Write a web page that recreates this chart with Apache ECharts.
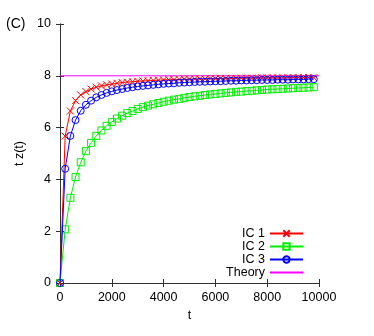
<!DOCTYPE html>
<html>
<head>
<meta charset="utf-8">
<script src="https://cdn.jsdelivr.net/npm/echarts@6/dist/echarts.min.js"></script>
<style>
  html, body { margin: 0; padding: 0; background: #fff; }
  #main { width: 374px; height: 336px; }
</style>
</head>
<body>
<div id="main"></div>
<script>
// sample times, every 200 from 0 to 9800
var times = [0, 200, 400, 600, 800, 1000, 1200, 1400, 1600, 1800,
  2000, 2200, 2400, 2600, 2800, 3000, 3200, 3400, 3600, 3800,
  4000, 4200, 4400, 4600, 4800, 5000, 5200, 5400, 5600, 5800,
  6000, 6200, 6400, 6600, 6800, 7000, 7200, 7400, 7600, 7800,
  8000, 8200, 8400, 8600, 8800, 9000, 9200, 9400, 9600, 9800];

var ic1 = [0, 5.67, 6.64, 7.04, 7.26, 7.39, 7.49, 7.56, 7.61, 7.65,
  7.68, 7.71, 7.74, 7.76, 7.77, 7.79, 7.80, 7.81, 7.82, 7.83,
  7.84, 7.85, 7.85, 7.86, 7.87, 7.87, 7.88, 7.88, 7.88, 7.89,
  7.89, 7.90, 7.90, 7.90, 7.90, 7.91, 7.91, 7.91, 7.91, 7.92,
  7.92, 7.92, 7.92, 7.92, 7.93, 7.93, 7.93, 7.93, 7.93, 7.93];

var ic2 = [0, 2.07, 3.29, 4.09, 4.66, 5.09, 5.41, 5.68, 5.89, 6.07,
  6.22, 6.35, 6.46, 6.56, 6.64, 6.72, 6.79, 6.85, 6.90, 6.95,
  7.00, 7.04, 7.08, 7.11, 7.15, 7.18, 7.21, 7.23, 7.26, 7.28,
  7.30, 7.32, 7.34, 7.36, 7.38, 7.39, 7.41, 7.42, 7.44, 7.45,
  7.47, 7.48, 7.49, 7.50, 7.51, 7.52, 7.53, 7.54, 7.55, 7.56];

var ic3 = [0, 4.41, 5.68, 6.29, 6.65, 6.88, 7.04, 7.17, 7.26, 7.34,
  7.40, 7.45, 7.49, 7.53, 7.56, 7.59, 7.61, 7.63, 7.65, 7.67,
  7.69, 7.70, 7.71, 7.73, 7.74, 7.75, 7.76, 7.77, 7.77, 7.78,
  7.79, 7.79, 7.80, 7.81, 7.81, 7.82, 7.82, 7.83, 7.83, 7.84,
  7.84, 7.84, 7.85, 7.85, 7.85, 7.86, 7.86, 7.86, 7.87, 7.87];

var theoryT = [0, 10000];
var theoryVal = [8, 8];

var xTicks = [0, 2000, 4000, 6000, 8000, 10000];
var yTicks = [0, 2, 4, 6, 8, 10];

function pairs(xs, ys) {
  return xs.map(function (x, i) { return [x, ys[i]]; });
}

var font = 'Liberation Sans, Arial, sans-serif';
var crossPath = 'path://M0,0L10,10M10,0L0,10';

var myChart = echarts.init(document.getElementById('main'));

var frame = { show: true, lineStyle: { color: '#333', width: 1 } };
var inTick = { show: true, inside: true, length: 4, lineStyle: { color: '#333' } };

var option = {
  animation: false,
  title: {
    text: '(C)',
    left: 6,
    top: 17,
    padding: 0,
    textStyle: { fontFamily: font, fontSize: 14, fontWeight: 'normal', color: '#000' }
  },
  grid: { left: 60, top: 24, width: 259, height: 259 },
  legend: {
    orient: 'vertical',
    right: 70,
    bottom: 57,
    padding: 0,
    align: 'right',
    itemWidth: 33,
    itemHeight: 8,
    itemGap: 0,
    textStyle: { fontFamily: font, fontSize: 12.5, lineHeight: 11.5, color: '#000', padding: [0, 0, 0, 0] },
    data: ['IC 1', 'IC 2', 'IC 3', { name: 'Theory', itemStyle: { opacity: 0 } }]
  },
  xAxis: [{
    type: 'value',
    min: 0, max: 10000, interval: 2000,
    name: 't',
    nameLocation: 'middle',
    nameGap: 26,
    nameTextStyle: { fontFamily: font, fontSize: 12.5, color: '#000' },
    axisLine: frame,
    axisTick: inTick,
    axisLabel: {
      fontFamily: font, fontSize: 12.5, color: '#000', margin: 8,
      formatter: function (v) { return xTicks.indexOf(v) >= 0 ? String(v) : ''; }
    },
    splitLine: { show: false }
  }, {
    type: 'value',
    position: 'top',
    min: 0, max: 10000, interval: 2000,
    axisLine: frame,
    axisTick: inTick,
    axisLabel: { show: false },
    splitLine: { show: false }
  }],
  yAxis: [{
    type: 'value',
    min: 0, max: 10, interval: 2,
    name: 't z(t)',
    nameLocation: 'middle',
    nameGap: 34,
    nameTextStyle: { fontFamily: font, fontSize: 12.5, color: '#000' },
    axisLine: frame,
    axisTick: inTick,
    axisLabel: {
      fontFamily: font, fontSize: 12.5, color: '#000', margin: 9,
      formatter: function (v) { return yTicks.indexOf(v) >= 0 ? String(v) : ''; }
    },
    splitLine: { show: false }
  }, {
    type: 'value',
    position: 'right',
    min: 0, max: 10, interval: 2,
    axisLine: frame,
    axisTick: inTick,
    axisLabel: { show: false },
    splitLine: { show: false }
  }],
  series: [{
    name: 'IC 1',
    type: 'line',
    data: pairs(times, ic1),
    symbol: crossPath,
    symbolSize: 7,
    lineStyle: { color: '#ff0000', width: 1 },
    itemStyle: { color: '#ff0000', borderColor: '#ff0000', borderWidth: 1 },
    z: 3
  }, {
    name: 'IC 2',
    type: 'line',
    data: pairs(times, ic2),
    symbol: 'rect',
    symbolSize: 7,
    lineStyle: { color: '#00ee00', width: 1 },
    itemStyle: { color: 'rgba(0,0,0,0)', borderColor: '#00ee00', borderWidth: 1 },
    z: 4
  }, {
    name: 'IC 3',
    type: 'line',
    data: pairs(times, ic3),
    symbol: 'circle',
    symbolSize: 7,
    lineStyle: { color: '#0000ff', width: 1 },
    itemStyle: { color: 'rgba(0,0,0,0)', borderColor: '#0000ff', borderWidth: 1 },
    z: 5
  }, {
    name: 'Theory',
    type: 'line',
    data: pairs(theoryT, theoryVal),
    symbol: 'none',
    lineStyle: { color: '#ff00ff', width: 1 },
    itemStyle: { color: '#ff00ff' },
    z: 2
  }]
};

myChart.setOption(option);
</script>
</body>
</html>
